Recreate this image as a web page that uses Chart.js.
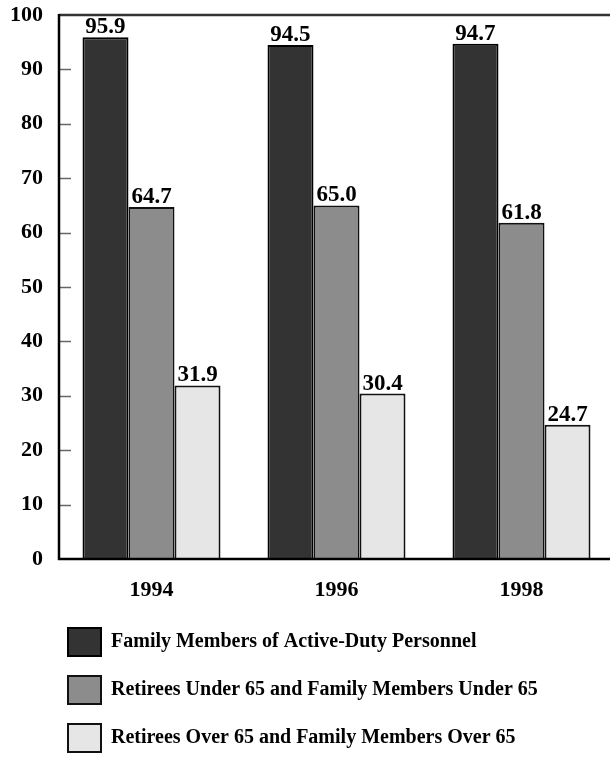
<!DOCTYPE html>
<html>
<head>
<meta charset="utf-8">
<script src="https://cdn.jsdelivr.net/npm/chart.js@4/dist/chart.umd.min.js"></script>
<style>
html,body{margin:0;padding:0;background:#fff;overflow:hidden;width:610px;height:757px;}
#wrap{position:relative;width:616px;height:757px;}
</style>
</head>
<body>
<div id="wrap"><canvas id="c"></canvas></div>
<script>
const years = ['1994', '1996', '1998'];
const activeDuty = [95.9, 94.5, 94.7];
const retireesUnder65 = [64.7, 65.0, 61.8];
const retireesOver65 = [31.9, 30.4, 24.7];
const seriesNames = [
  'Family Members of Active-Duty Personnel',
  'Retirees Under 65 and Family Members Under 65',
  'Retirees Over 65 and Family Members Over 65'
];
const yTicks = [0, 10, 20, 30, 40, 50, 60, 70, 80, 90, 100];

const FONT = '"Liberation Serif", "DejaVu Serif", serif';

const frame = {
  id: 'frame',
  afterLayout(chart) {
    if (chart.legend) {
      chart.legend.left = 48;
    }
  },
  afterDatasetsDraw(chart) {
    const {ctx, chartArea, scales} = chart;
    const y = scales.y;
    ctx.save();
    ctx.strokeStyle = '#666';
    ctx.lineWidth = 1.5;
    yTicks.forEach(v => {
      if (v === 0 || v === 100) return;
      const py = Math.round(y.getPixelForValue(v)) + 0.5;
      ctx.beginPath();
      ctx.moveTo(chartArea.left, py);
      ctx.lineTo(chartArea.left + 12, py);
      ctx.stroke();
    });
    ctx.strokeStyle = '#333';
    ctx.lineWidth = 2.5;
    const top = y.getPixelForValue(100);
    ctx.beginPath();
    ctx.moveTo(chartArea.left, top);
    ctx.lineTo(chartArea.right + 10, top);
    ctx.stroke();
    ctx.strokeStyle = '#000';
    ctx.lineWidth = 2.5;
    const bot = y.getPixelForValue(0);
    ctx.beginPath();
    ctx.moveTo(chartArea.left - 1, bot);
    ctx.lineTo(chartArea.right + 10, bot);
    ctx.stroke();
    ctx.beginPath();
    ctx.moveTo(chartArea.left, top - 1);
    ctx.lineTo(chartArea.left, bot + 1);
    ctx.stroke();
    ctx.fillStyle = '#000';
    ctx.font = 'bold 23px ' + FONT;
    ctx.textAlign = 'center';
    ctx.textBaseline = 'alphabetic';
    chart.data.datasets.forEach((ds, di) => {
      const meta = chart.getDatasetMeta(di);
      meta.data.forEach((bar, i) => {
        ctx.fillText(ds.data[i].toFixed(1), bar.x, bar.y - 4);
      });
    });
    ctx.restore();
  }
};

new Chart(document.getElementById('c'), {
  type: 'bar',
  data: {
    labels: years,
    datasets: [
      {label: seriesNames[0], data: activeDuty, backgroundColor: '#333333', borderColor: '#000', borderWidth: 2},
      {label: seriesNames[1], data: retireesUnder65, backgroundColor: '#8c8c8c', borderColor: '#111', borderWidth: 2},
      {label: seriesNames[2], data: retireesOver65, backgroundColor: '#e6e6e6', borderColor: '#111', borderWidth: 2}
    ]
  },
  options: {
    responsive: true,
    maintainAspectRatio: false,
    animation: false,
    layout: {padding: {top: 15, left: 0, right: 2, bottom: 0}},
    datasets: {bar: {categoryPercentage: 0.746, barPercentage: 1}},
    scales: {
      x: {
        afterFit(scale) { scale.height = 49; },
        grid: {display: false, drawTicks: false},
        border: {display: false},
        ticks: {color: '#000', font: {family: FONT, size: 22, weight: 'bold'}, padding: 18}
      },
      y: {
        min: 0, max: 100,
        afterBuildTicks(scale) { scale.ticks = yTicks.map(v => ({value: v})); },
        afterFit(scale) { scale.width = 59; scale.paddingTop = 0; scale.paddingBottom = 0; },
        grid: {display: false, drawTicks: false},
        border: {display: false},
        ticks: {color: '#000', font: {family: FONT, size: 22, weight: 'bold'}, padding: 16}
      }
    },
    plugins: {
      legend: {
        position: 'bottom',
        align: 'start',
        maxHeight: 149,
        labels: {
          color: '#000',
          font: {family: FONT, size: 20, weight: 'bold'},
          boxWidth: 33, boxHeight: 28, padding: 20
        }
      },
      tooltip: {enabled: false}
    }
  },
  plugins: [frame]
});
</script>
</body>
</html>
